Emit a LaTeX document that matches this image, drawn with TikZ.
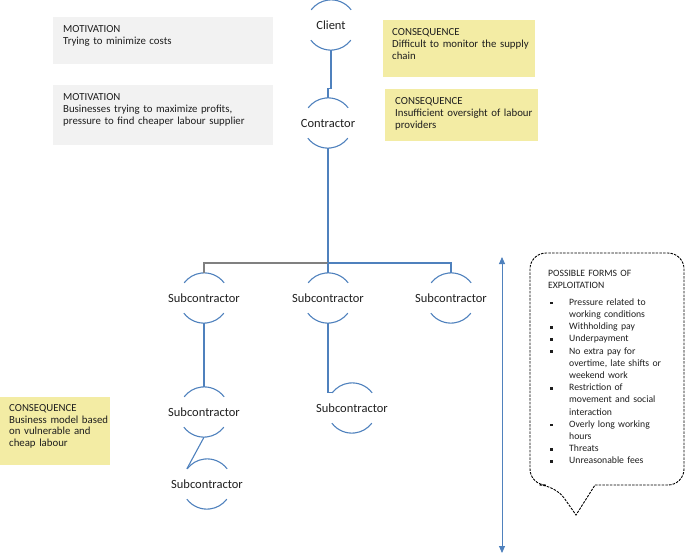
\documentclass[tikz,border=0pt]{standalone}
\usepackage{fontspec}
\setmainfont{Carlito}
\usetikzlibrary{arrows.meta}
\definecolor{chainblue}{RGB}{79,129,189}
\definecolor{notegrey}{RGB}{242,242,242}
\definecolor{noteyellow}{RGB}{243,236,164}
\definecolor{inkgrey}{RGB}{30,30,30}
\newcommand\sqb{\hspace{2pt}\rule[1.2pt]{2.6pt}{2.6pt}}
\newcommand\who[1]{\makebox[0pt]{#1}}
\begin{document}
\begin{tikzpicture}[x=1pt,y=1pt]
\tikzstyle{arcline}=[draw=chainblue, line width=1.1pt]
\tikzstyle{party}=[circle, minimum size=50pt, inner sep=0pt, text=inkgrey, font=\fontsize{12.5}{14}\selectfont,
  append after command={\pgfextra{\draw[arcline] (\tikzlastnode.37) arc[start angle=37, end angle=143, radius=25pt]
    (\tikzlastnode.217) arc[start angle=217, end angle=323, radius=25pt];}}]
\tikzstyle{link}=[draw=chainblue, line width=1.1pt]
\tikzstyle{greylink}=[draw=gray, line width=1.1pt]
\tikzstyle{note}=[anchor=north west, align=left, inner xsep=10pt, inner ysep=0pt, text height=15.5pt, text=inkgrey, font=\fontsize{10.8}{11.8}\selectfont]
\useasboundingbox (0,0) rectangle (685,-554);
\node[note, fill=notegrey, text width=200pt, text depth=31.5pt] (mot1) at (53,-17) {MOTIVATION\\Trying to minimize costs};
\node[note, fill=notegrey, text width=200pt, text depth=44.5pt] (mot2) at (53,-85) {MOTIVATION\\\mbox{Businesses trying to maximize profits,}\\\mbox{pressure to find cheaper labour supplier}};
\node[note, fill=noteyellow, inner xsep=9pt, text width=134pt, text depth=41.5pt] (cons1) at (383,-20) {CONSEQUENCE\\\mbox{Difficult to monitor the supply}\\chain};
\node[note, fill=noteyellow, text width=133pt, text depth=36pt] (cons2) at (385,-89) {CONSEQUENCE\\\mbox{Insufficient oversight of labour}\\providers};
\node[note, fill=noteyellow, inner xsep=9pt, text width=92pt, text height=14pt, text depth=54pt] (cons3) at (0,-397) {CONSEQUENCE\\\mbox{Business model based}\\\mbox{on vulnerable and}\\cheap labour};
\node[party] (client) at (331,-25) {\who{Client}};
\node[party] (contractor) at (328,-123) {\who{Contractor}};
\node[party] (sub1) at (204,-298) {\who{Subcontractor}};
\node[party] (sub2) at (328,-298) {\who{Subcontractor}};
\node[party] (sub3) at (451,-298) {\who{Subcontractor}};
\node[party] (sub4) at (204,-412) {\who{Subcontractor}};
\node[party] (sub5) at (207,-484) {\who{Subcontractor}};
\node[party] (sub6) at (352,-408) {\who{Subcontractor}};
\coordinate (bar) at (328,-263);
\draw[link] (client.south) -- ++(0,-38) -| (contractor.north);
\draw[link] (contractor.south) -- (bar);
\draw[greylink] (bar) -| (sub1.north);
\draw[link] (bar) -- (sub2.north);
\draw[link] (bar) -| (sub3.north);
\draw[link] (sub1.south) -- (sub4.north);
\draw[link] (sub4.south) -- (sub5.143);
\draw[link] (sub2.south) |- (sub6.143);
\coordinate (scaletop) at (502,-257);
\coordinate (scalebot) at (502,-553);
\draw[draw=chainblue, line width=0.9pt, {Triangle[length=7pt,width=6pt]}-{Triangle[length=7pt,width=6pt]}, color=chainblue] (scaletop) -- (scalebot);
\draw[line width=0.9pt, dash pattern=on 2.5pt off 1.2pt, rounded corners=16pt] (595,-485) -- (684,-485) -- (684,-253) -- (530,-253) -- (530,-485) -- (555,-485) [sharp corners] -- (576,-515) -- cycle;
\node[anchor=base west, inner sep=0pt, text width=134pt, align=left, text=inkgrey, font=\fontsize{9.7}{12.2}\selectfont] (forms) at (548,-276.5) {POSSIBLE FORMS OF\\EXPLOITATION\par\vspace{7pt}
\begin{tabular}{@{}p{21pt}@{}l@{}}
\sqb & Pressure related to\\
 & working conditions\\
\sqb & Withholding pay\\
\sqb & Underpayment\\
\sqb & No extra pay for\\
 & overtime, late shifts or\\
 & weekend work\\
\sqb & Restriction of\\
 & movement and social\\
 & interaction\\
\sqb & Overly long working\\
 & hours\\
\sqb & Threats\\
\sqb & Unreasonable fees
\end{tabular}};
\end{tikzpicture}
\end{document}
